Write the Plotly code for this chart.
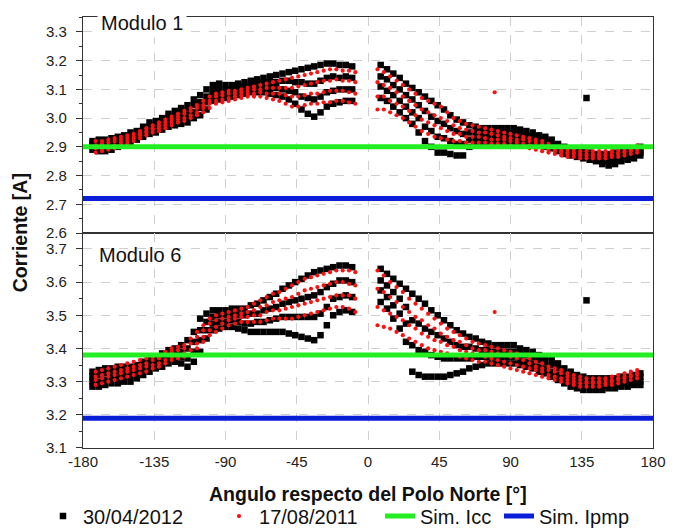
import plotly.graph_objects as go
from plotly.subplots import make_subplots

# ---------------- data ----------------
x_left = [-174, -170, -166, -162, -158, -154, -150, -146, -142, -138, -134, -130, -126, -122,
          -118, -114, -110, -106, -102, -98, -94, -90, -86, -82, -78, -74, -70, -66,
          -62, -58, -54, -50, -46, -42, -38, -34, -30, -26, -22, -18, -14, -10]
x_right = [8, 12, 16, 20, 24, 28, 32, 36, 40, 44, 48, 52, 56, 60,
           64, 68, 72, 76, 80, 84, 88, 92, 96, 100, 104, 108, 112, 116,
           120, 124, 128, 132, 136, 140, 144, 148, 152, 156, 160, 164, 168, 172]
# sampling positions of the red (17/08/2011) points
xr_left = [-172, -168, -164, -160, -156, -152, -148, -144, -140, -136, -132, -128, -124, -120,
           -116, -112, -108, -104, -100, -96, -92, -88, -84, -80, -76, -72, -68, -64,
           -60, -56, -52, -48, -44, -40, -36, -32, -28, -24, -20, -16, -12, -8]
xr_right = [6, 10, 14, 18, 22, 26, 30, 34, 38, 42, 46, 50, 54, 58,
            62, 66, 70, 74, 78, 82, 86, 90, 94, 98, 102, 106, 110, 114,
            118, 122, 126, 130, 134, 138, 142, 146, 150, 154, 158, 162, 166, 170]
x_all = x_left + x_right
xr_all = xr_left + xr_right

x_tickvals = [-180, -135, -90, -45, 0, 45, 90, 135, 180]
x_ticktext = ["-180", "-135", "-90", "-45", "0", "45", "90", "135", "180"]

# Modulo 1, 30/04/2012 (black squares), four strands from low to high
m1_blk_s1 = [2.89, 2.885, 2.885, 2.89, 2.90, 2.905, 2.915, 2.925, 2.935, 2.945, 2.95, 2.96, 2.97, 2.975,
             2.98, 2.985, 3.00, 3.01, 3.03, 3.06, 3.065, 3.07, 3.075, 3.08, 3.085, 3.09, 3.09, 3.09,
             3.085, 3.08, 3.075, 3.065, 3.05, 3.03, 3.015, 3.005, 3.02, 3.04, 3.05, 3.055, 3.06, 3.06,
             3.07, 3.06, 3.04, 3.02, 3.00, 2.98, 2.95, 2.92, 2.90, 2.88, 2.88, 2.875, 2.87, 2.87,
             2.90, 2.91, 2.915, 2.915, 2.915, 2.915, 2.915, 2.91, 2.91, 2.91, 2.91, 2.905, 2.90, 2.895,
             2.885, 2.875, 2.87, 2.865, 2.86, 2.855, 2.85, 2.84, 2.835, 2.84, 2.85, 2.855, 2.86, 2.87]
m1_blk_s2 = [2.90, 2.90, 2.90, 2.905, 2.91, 2.915, 2.925, 2.935, 2.945, 2.96, 2.965, 2.975, 2.985, 2.99,
             3.00, 3.005, 3.02, 3.035, 3.055, 3.08, 3.085, 3.085, 3.09, 3.095, 3.10, 3.105, 3.105, 3.105,
             3.105, 3.105, 3.10, 3.095, 3.09, 3.075, 3.07, 3.065, 3.075, 3.09, 3.095, 3.10, 3.10, 3.10,
             3.11, 3.095, 3.08, 3.06, 3.04, 3.02, 3.00, 2.97, 2.955, 2.935, 2.93, 2.92, 2.91, 2.91,
             2.925, 2.93, 2.93, 2.93, 2.93, 2.93, 2.93, 2.93, 2.925, 2.925, 2.925, 2.915, 2.91, 2.905,
             2.895, 2.885, 2.88, 2.875, 2.87, 2.865, 2.86, 2.85, 2.85, 2.855, 2.86, 2.865, 2.87, 2.88]
m1_blk_s3 = [2.91, 2.91, 2.91, 2.915, 2.925, 2.93, 2.94, 2.945, 2.96, 2.97, 2.975, 2.985, 3.00, 3.01,
             3.015, 3.025, 3.045, 3.055, 3.075, 3.095, 3.10, 3.10, 3.10, 3.105, 3.11, 3.115, 3.12, 3.125,
             3.125, 3.125, 3.13, 3.13, 3.125, 3.125, 3.12, 3.12, 3.13, 3.14, 3.145, 3.14, 3.145, 3.14,
             3.145, 3.135, 3.115, 3.10, 3.08, 3.065, 3.045, 3.025, 3.005, 2.99, 2.98, 2.965, 2.955, 2.945,
             2.95, 2.95, 2.95, 2.95, 2.95, 2.95, 2.95, 2.945, 2.945, 2.94, 2.935, 2.93, 2.925, 2.915,
             2.90, 2.89, 2.885, 2.88, 2.875, 2.87, 2.865, 2.865, 2.86, 2.865, 2.875, 2.88, 2.885, 2.89]
m1_blk_s4 = [2.92, 2.925, 2.925, 2.93, 2.935, 2.94, 2.95, 2.955, 2.97, 2.985, 2.99, 3.00, 3.015, 3.025,
             3.035, 3.045, 3.065, 3.08, 3.10, 3.115, 3.12, 3.115, 3.115, 3.12, 3.125, 3.13, 3.135, 3.14,
             3.145, 3.15, 3.155, 3.16, 3.165, 3.17, 3.175, 3.18, 3.185, 3.19, 3.19, 3.185, 3.185, 3.18,
             3.185, 3.17, 3.155, 3.14, 3.12, 3.105, 3.09, 3.075, 3.06, 3.045, 3.03, 3.01, 2.995, 2.985,
             2.975, 2.97, 2.965, 2.965, 2.965, 2.965, 2.965, 2.965, 2.96, 2.955, 2.95, 2.94, 2.935, 2.925,
             2.91, 2.90, 2.895, 2.89, 2.885, 2.88, 2.875, 2.875, 2.875, 2.88, 2.885, 2.89, 2.895, 2.90]

# Modulo 1, 17/08/2011 (red dots)
m1_red_s1 = [2.88, 2.885, 2.89, 2.895, 2.905, 2.91, 2.92, 2.93, 2.94, 2.95, 2.955, 2.965, 2.975, 2.985,
             2.99, 3.00, 3.01, 3.02, 3.035, 3.05, 3.055, 3.06, 3.065, 3.07, 3.075, 3.075, 3.075, 3.07,
             3.065, 3.06, 3.05, 3.04, 3.04, 3.045, 3.05, 3.05, 3.055, 3.055, 3.06, 3.06, 3.055, 3.05,
             3.03, 3.03, 3.02, 3.01, 3.00, 2.985, 2.97, 2.955, 2.945, 2.935, 2.93, 2.925, 2.92, 2.92,
             2.915, 2.915, 2.915, 2.915, 2.91, 2.91, 2.91, 2.905, 2.90, 2.90, 2.895, 2.89, 2.885, 2.88,
             2.875, 2.87, 2.865, 2.865, 2.86, 2.86, 2.86, 2.86, 2.86, 2.865, 2.865, 2.87, 2.875, 2.88]
m1_red_s2 = [2.895, 2.895, 2.90, 2.905, 2.915, 2.92, 2.93, 2.94, 2.95, 2.96, 2.965, 2.975, 2.985, 2.995,
             3.00, 3.01, 3.02, 3.035, 3.05, 3.06, 3.065, 3.07, 3.075, 3.08, 3.085, 3.085, 3.09, 3.085,
             3.085, 3.085, 3.08, 3.075, 3.075, 3.08, 3.085, 3.085, 3.09, 3.095, 3.095, 3.095, 3.09, 3.085,
             3.075, 3.075, 3.06, 3.05, 3.04, 3.025, 3.01, 2.995, 2.985, 2.975, 2.965, 2.955, 2.945, 2.945,
             2.935, 2.935, 2.935, 2.93, 2.925, 2.925, 2.925, 2.92, 2.915, 2.91, 2.905, 2.90, 2.895, 2.89,
             2.885, 2.88, 2.875, 2.875, 2.87, 2.87, 2.87, 2.87, 2.87, 2.87, 2.875, 2.88, 2.885, 2.89]
m1_red_s3 = [2.905, 2.91, 2.915, 2.92, 2.925, 2.93, 2.935, 2.945, 2.955, 2.965, 2.975, 2.985, 2.995, 3.005,
             3.015, 3.025, 3.035, 3.045, 3.06, 3.075, 3.08, 3.085, 3.085, 3.09, 3.095, 3.10, 3.10, 3.105,
             3.105, 3.105, 3.105, 3.105, 3.11, 3.115, 3.12, 3.125, 3.13, 3.13, 3.135, 3.13, 3.13, 3.125,
             3.125, 3.115, 3.105, 3.09, 3.075, 3.06, 3.045, 3.03, 3.02, 3.01, 3.00, 2.99, 2.975, 2.965,
             2.96, 2.955, 2.95, 2.95, 2.945, 2.94, 2.935, 2.93, 2.925, 2.925, 2.92, 2.915, 2.91, 2.90,
             2.89, 2.885, 2.88, 2.88, 2.875, 2.875, 2.875, 2.875, 2.875, 2.88, 2.88, 2.885, 2.89, 2.895]
m1_red_s4 = [2.92, 2.92, 2.925, 2.93, 2.935, 2.94, 2.945, 2.955, 2.965, 2.975, 2.985, 2.995, 3.005, 3.015,
             3.025, 3.035, 3.045, 3.06, 3.075, 3.085, 3.09, 3.095, 3.095, 3.10, 3.105, 3.11, 3.115, 3.12,
             3.125, 3.13, 3.135, 3.14, 3.145, 3.15, 3.155, 3.16, 3.165, 3.17, 3.17, 3.165, 3.165, 3.16,
             3.17, 3.16, 3.145, 3.13, 3.115, 3.10, 3.085, 3.07, 3.06, 3.05, 3.04, 3.02, 3.00, 2.99,
             2.98, 2.975, 2.97, 2.965, 2.96, 2.955, 2.95, 2.945, 2.94, 2.935, 2.93, 2.925, 2.92, 2.91,
             2.90, 2.895, 2.89, 2.89, 2.885, 2.885, 2.885, 2.885, 2.885, 2.885, 2.89, 2.895, 2.90, 2.905]

# Modulo 6, 30/04/2012 (black squares)
m6_blk_s1 = [3.285, 3.285, 3.29, 3.295, 3.295, 3.30, 3.30, 3.31, 3.32, 3.33, 3.34, 3.345, 3.355, 3.36,
             3.355, 3.345, 3.36, 3.39, 3.43, 3.455, 3.46, 3.465, 3.465, 3.46, 3.455, 3.45, 3.45, 3.45,
             3.45, 3.45, 3.45, 3.445, 3.44, 3.435, 3.43, 3.425, 3.44, 3.47, 3.50, 3.51, 3.515, 3.51,
             3.54, 3.52, 3.49, 3.46, 3.42, 3.33, 3.32, 3.315, 3.315, 3.315, 3.315, 3.32, 3.325, 3.33,
             3.34, 3.345, 3.35, 3.355, 3.355, 3.355, 3.355, 3.355, 3.35, 3.345, 3.34, 3.33, 3.325, 3.315,
             3.305, 3.295, 3.285, 3.28, 3.275, 3.275, 3.275, 3.275, 3.28, 3.28, 3.285, 3.285, 3.29, 3.29]
m6_blk_s2 = [3.30, 3.30, 3.305, 3.31, 3.31, 3.315, 3.315, 3.325, 3.335, 3.345, 3.35, 3.36, 3.37, 3.375,
             3.375, 3.37, 3.39, 3.425, 3.455, 3.475, 3.48, 3.48, 3.485, 3.48, 3.475, 3.475, 3.48, 3.48,
             3.485, 3.49, 3.495, 3.495, 3.495, 3.495, 3.495, 3.495, 3.505, 3.525, 3.55, 3.555, 3.56, 3.555,
             3.575, 3.555, 3.53, 3.505, 3.475, 3.41, 3.395, 3.39, 3.38, 3.375, 3.37, 3.37, 3.37, 3.37,
             3.37, 3.375, 3.375, 3.375, 3.375, 3.375, 3.375, 3.375, 3.365, 3.36, 3.355, 3.345, 3.34, 3.33,
             3.32, 3.31, 3.30, 3.295, 3.29, 3.285, 3.285, 3.285, 3.29, 3.29, 3.295, 3.295, 3.30, 3.30]
m6_blk_s3 = [3.315, 3.32, 3.325, 3.325, 3.33, 3.33, 3.33, 3.335, 3.345, 3.355, 3.365, 3.37, 3.38, 3.385,
             3.39, 3.40, 3.42, 3.455, 3.48, 3.495, 3.50, 3.50, 3.50, 3.50, 3.50, 3.505, 3.505, 3.515,
             3.52, 3.525, 3.535, 3.54, 3.545, 3.55, 3.555, 3.56, 3.57, 3.585, 3.595, 3.605, 3.605, 3.60,
             3.605, 3.59, 3.57, 3.55, 3.525, 3.485, 3.475, 3.46, 3.45, 3.44, 3.43, 3.42, 3.41, 3.405,
             3.405, 3.40, 3.395, 3.395, 3.39, 3.39, 3.39, 3.39, 3.385, 3.38, 3.375, 3.365, 3.36, 3.35,
             3.34, 3.325, 3.315, 3.305, 3.30, 3.30, 3.30, 3.30, 3.30, 3.30, 3.305, 3.305, 3.31, 3.315]
m6_blk_s4 = [3.33, 3.335, 3.34, 3.34, 3.345, 3.345, 3.345, 3.35, 3.36, 3.37, 3.375, 3.385, 3.395, 3.40,
             3.41, 3.425, 3.45, 3.49, 3.505, 3.515, 3.515, 3.515, 3.52, 3.52, 3.52, 3.53, 3.535, 3.545,
             3.555, 3.565, 3.58, 3.59, 3.60, 3.61, 3.62, 3.63, 3.635, 3.64, 3.645, 3.65, 3.65, 3.645,
             3.64, 3.625, 3.61, 3.595, 3.58, 3.565, 3.55, 3.535, 3.515, 3.50, 3.485, 3.47, 3.455, 3.445,
             3.435, 3.43, 3.42, 3.415, 3.41, 3.41, 3.41, 3.41, 3.40, 3.395, 3.39, 3.38, 3.375, 3.365,
             3.355, 3.34, 3.33, 3.32, 3.315, 3.31, 3.31, 3.31, 3.31, 3.31, 3.315, 3.315, 3.32, 3.325]

# Modulo 6, 17/08/2011 (red dots)
m6_red_s1 = [3.29, 3.295, 3.30, 3.305, 3.31, 3.315, 3.32, 3.325, 3.33, 3.34, 3.345, 3.355, 3.365, 3.37,
             3.375, 3.38, 3.40, 3.42, 3.44, 3.45, 3.46, 3.47, 3.475, 3.48, 3.48, 3.48, 3.48, 3.485,
             3.49, 3.49, 3.49, 3.49, 3.495, 3.50, 3.505, 3.51, 3.515, 3.52, 3.525, 3.525, 3.52, 3.51,
             3.47, 3.465, 3.46, 3.45, 3.44, 3.43, 3.42, 3.41, 3.40, 3.395, 3.39, 3.385, 3.38, 3.375,
             3.37, 3.365, 3.36, 3.36, 3.355, 3.35, 3.345, 3.34, 3.335, 3.33, 3.325, 3.32, 3.315, 3.31,
             3.305, 3.30, 3.295, 3.29, 3.285, 3.285, 3.285, 3.285, 3.29, 3.29, 3.295, 3.30, 3.305, 3.31]
m6_red_s2 = [3.305, 3.31, 3.315, 3.32, 3.325, 3.33, 3.335, 3.34, 3.345, 3.35, 3.355, 3.365, 3.375, 3.38,
             3.385, 3.395, 3.415, 3.435, 3.455, 3.465, 3.475, 3.485, 3.49, 3.495, 3.495, 3.50, 3.50, 3.51,
             3.515, 3.515, 3.52, 3.525, 3.53, 3.535, 3.54, 3.545, 3.55, 3.555, 3.56, 3.56, 3.56, 3.55,
             3.525, 3.515, 3.505, 3.495, 3.485, 3.47, 3.46, 3.445, 3.435, 3.425, 3.42, 3.41, 3.405, 3.395,
             3.39, 3.385, 3.38, 3.375, 3.37, 3.365, 3.36, 3.355, 3.35, 3.345, 3.34, 3.335, 3.33, 3.32,
             3.315, 3.31, 3.305, 3.30, 3.295, 3.295, 3.295, 3.295, 3.295, 3.30, 3.305, 3.31, 3.315, 3.32]
m6_red_s3 = [3.315, 3.32, 3.325, 3.33, 3.335, 3.34, 3.345, 3.35, 3.355, 3.365, 3.37, 3.38, 3.39, 3.395,
             3.40, 3.415, 3.435, 3.455, 3.475, 3.485, 3.49, 3.495, 3.50, 3.505, 3.51, 3.515, 3.525, 3.53,
             3.54, 3.545, 3.55, 3.555, 3.565, 3.575, 3.58, 3.585, 3.59, 3.595, 3.60, 3.60, 3.595, 3.59,
             3.58, 3.57, 3.555, 3.54, 3.525, 3.51, 3.495, 3.485, 3.47, 3.46, 3.445, 3.435, 3.425, 3.42,
             3.41, 3.40, 3.395, 3.395, 3.39, 3.385, 3.38, 3.375, 3.37, 3.365, 3.355, 3.345, 3.34, 3.335,
             3.33, 3.325, 3.315, 3.31, 3.305, 3.30, 3.30, 3.30, 3.305, 3.305, 3.31, 3.315, 3.32, 3.325]
m6_red_s4 = [3.33, 3.335, 3.34, 3.345, 3.35, 3.355, 3.36, 3.365, 3.37, 3.375, 3.38, 3.39, 3.40, 3.405,
             3.41, 3.43, 3.45, 3.47, 3.49, 3.50, 3.505, 3.51, 3.515, 3.52, 3.525, 3.535, 3.545, 3.555,
             3.565, 3.57, 3.58, 3.59, 3.60, 3.61, 3.615, 3.62, 3.625, 3.63, 3.635, 3.635, 3.635, 3.63,
             3.635, 3.62, 3.60, 3.585, 3.57, 3.55, 3.535, 3.52, 3.505, 3.49, 3.475, 3.46, 3.45, 3.44,
             3.43, 3.42, 3.415, 3.41, 3.405, 3.40, 3.395, 3.39, 3.385, 3.38, 3.37, 3.36, 3.355, 3.345,
             3.34, 3.335, 3.325, 3.32, 3.315, 3.31, 3.31, 3.31, 3.31, 3.315, 3.32, 3.325, 3.33, 3.335]

# isolated points
m1_blk_out_x, m1_blk_out_y = [138], [3.07]
m1_red_out_x, m1_red_out_y = [80], [3.09]
m6_blk_out_x, m6_blk_out_y = [138], [3.545]
m6_red_out_x, m6_red_out_y = [80], [3.51]

# simulated currents
sim_x = [-180, 180]
m1_icc, m1_ipmp = 2.90, 2.72
m6_icc, m6_ipmp = 3.38, 3.19

# ---------------- figure ----------------
FONT = "Liberation Sans, Arial, sans-serif"
fig = make_subplots(rows=2, cols=1, shared_xaxes=True, vertical_spacing=0)

def add_panel(row, blk, red, bo, ro, icc, ipmp, show):
    bx = x_all * 4 + bo[0]
    by = blk[0] + blk[1] + blk[2] + blk[3] + bo[1]
    rx = xr_all * 4 + ro[0]
    ry = red[0] + red[1] + red[2] + red[3] + ro[1]
    fig.add_trace(go.Scatter(x=bx, y=by, mode="markers", name="30/04/2012", legend="legend",
                             marker=dict(symbol="square", size=6.5, color="black", line=dict(width=0)),
                             showlegend=show), row=row, col=1)
    fig.add_trace(go.Scatter(x=rx, y=ry, mode="markers", name="17/08/2011", legend="legend2",
                             marker=dict(symbol="circle", size=4.2, color="#ff1010", line=dict(width=0)),
                             showlegend=show), row=row, col=1)
    fig.add_trace(go.Scatter(x=sim_x, y=[icc, icc], mode="lines", name="Sim. Icc", legend="legend3",
                             line=dict(color="#22ee22", width=5), showlegend=show),
                  row=row, col=1)
    fig.add_trace(go.Scatter(x=sim_x, y=[ipmp, ipmp], mode="lines", name="Sim. Ipmp", legend="legend4",
                             line=dict(color="#0a1ed8", width=5), showlegend=show),
                  row=row, col=1)

add_panel(1, (m1_blk_s1, m1_blk_s2, m1_blk_s3, m1_blk_s4),
          (m1_red_s1, m1_red_s2, m1_red_s3, m1_red_s4),
          (m1_blk_out_x, m1_blk_out_y), (m1_red_out_x, m1_red_out_y), m1_icc, m1_ipmp, True)
add_panel(2, (m6_blk_s1, m6_blk_s2, m6_blk_s3, m6_blk_s4),
          (m6_red_s1, m6_red_s2, m6_red_s3, m6_red_s4),
          (m6_blk_out_x, m6_blk_out_y), (m6_red_out_x, m6_red_out_y), m6_icc, m6_ipmp, False)

axis_common = dict(showline=True, linecolor="#333", linewidth=1.2, mirror=True,
                   showgrid=True, gridcolor="#cfcfcf", griddash="dash", gridwidth=1,
                   zeroline=False,
                   tickfont=dict(family=FONT, size=15, color="#222"))

fig.update_xaxes(range=[-180, 180], tickvals=x_tickvals, ticktext=x_ticktext, ticks="",
                 **axis_common)
fig.update_xaxes(showticklabels=False, row=1, col=1)
fig.update_yaxes(tickformat=".1f", dtick=0.1, ticks="outside", ticklen=6, tickcolor="#333",
                 ticklabelstandoff=6,
                 minor=dict(ticks="outside", ticklen=3, dtick=0.05, tickcolor="#333", showgrid=False),
                 **axis_common)
fig.update_yaxes(range=[2.6, 3.352], tick0=2.6, domain=[0.4988, 1.0], row=1, col=1)
fig.update_yaxes(range=[3.1, 3.748], tick0=3.1, domain=[0.0, 0.4988], row=2, col=1)

fig.add_annotation(text="Modulo 1", xref="paper", yref="paper", x=0.024, y=1.0,
                   xanchor="left", yanchor="middle", yshift=-6, showarrow=False, bgcolor="white",
                   borderpad=3, font=dict(family=FONT, size=20, color="#111"))
fig.add_annotation(text="Modulo 6", xref="paper", yref="paper", x=0.024, y=0.4988,
                   xanchor="left", yanchor="middle", yshift=-22, showarrow=False,
                   font=dict(family=FONT, size=20, color="#111"))
fig.add_annotation(text="<b>Corriente [A]</b>", xref="paper", yref="paper", x=-0.111, y=0.50,
                   xanchor="center", yanchor="middle", textangle=-90, showarrow=False,
                   font=dict(family=FONT, size=19.5, color="#111"))
fig.add_annotation(text="<b>Angulo respecto del Polo Norte [°]</b>", xref="paper", yref="paper",
                   x=0.5, y=-0.107, xanchor="center", yanchor="middle", showarrow=False,
                   font=dict(family=FONT, size=19.5, color="#111"))

legend_common = dict(orientation="h", y=-0.158, xanchor="left", yanchor="middle",
                     font=dict(family=FONT, size=20, color="#111"),
                     itemsizing="trace", bgcolor="rgba(0,0,0,0)")

# the page body adds an 8 px offset, so the figure is 8 px smaller and margins shifted
fig.update_layout(
    width=671, height=523,
    margin=dict(l=75, r=26, t=9, b=83, autoexpand=False),
    paper_bgcolor="white", plot_bgcolor="white",
    showlegend=True,
    legend=dict(x=-0.0702, **legend_common),
    legend2=dict(x=0.2386, **legend_common),
    legend3=dict(x=0.5211, **legend_common),
    legend4=dict(x=0.7298, **legend_common),
)

fig.write_html("out.html")
